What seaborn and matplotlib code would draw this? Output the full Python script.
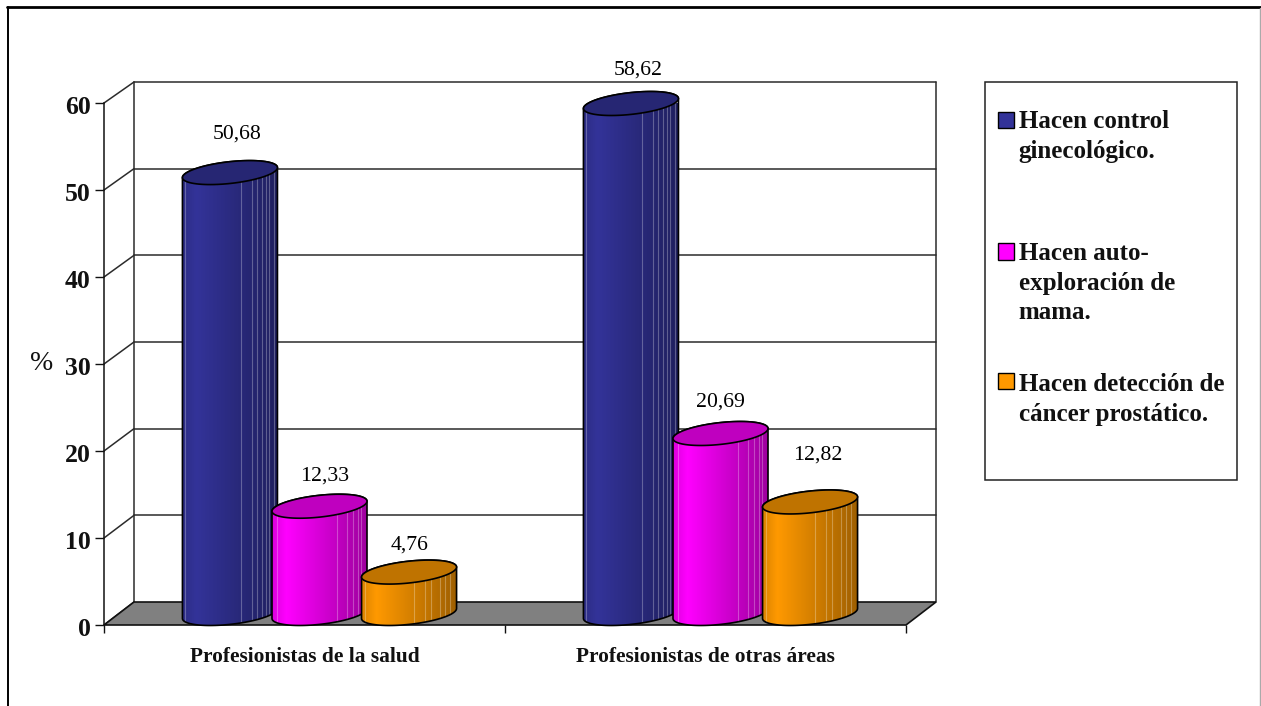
import matplotlib
matplotlib.use("Agg")
import matplotlib.pyplot as plt
import numpy as np
import pandas as pd
import seaborn as sns
from matplotlib.colors import to_rgb
from matplotlib.lines import Line2D
from matplotlib.patches import Polygon, Rectangle
from matplotlib.transforms import Affine2D

categories = ["Profesionistas de la salud", "Profesionistas de otras áreas"]
series_names = [
    "Hacen control\nginecológico.\n",
    "Hacen auto-\nexploración de\nmama.",
    "Hacen detección de\ncáncer prostático.",
]
control_values = [50.68, 58.62]
auto_values = [12.33, 20.69]
deteccion_values = [4.76, 12.82]
y_ticks = [0, 10, 20, 30, 40, 50, 60]

colors = ["#333399", "#FF00FF", "#FF9900"]
stripes = [
    [0.03, 0.62, 0.73, 0.78, 0.84, 0.88, 0.91, 0.96],
    [0.05, 0.68, 0.79, 0.85, 0.90, 0.94],
    [0.04, 0.55, 0.67, 0.73, 0.83, 0.88, 0.93],
]
# label offsets from the bar top, in pixels
label_offsets = [[(7, 39), (7, 33)], [(5, 30), (0, 31)], [(1, 27), (8, 47)]]

W, H = 1261, 706
PX_X = 2 / 802  # category units per pixel
PX_Y = 60 / 522  # value units per pixel
BACK_SCALE = 520 / 522


def px_box(x0, y0, x1, y1):
    return [x0 / W, 1 - y1 / H, (x1 - x0) / W, (y1 - y0) / H]


sns.set_theme(style="white")
plt.rcParams["font.family"] = ["Liberation Serif", "DejaVu Serif"]
plt.rcParams["axes.unicode_minus"] = False

df = pd.DataFrame({
    "categoria": categories * 3,
    "serie": [s for s in series_names for _ in categories],
    "valor": control_values + auto_values + deteccion_values,
})

fig = plt.figure(figsize=(W / 100, H / 100), dpi=100)
ax = fig.add_axes(px_box(104, 103, 906, 625))

sns.barplot(data=df, x="categoria", y="valor", hue="serie", hue_order=series_names,
            palette=colors, saturation=1, width=0.67, gap=0, edgecolor="black", linewidth=1,
            errorbar=None, ax=ax)
handles, labels = ax.get_legend_handles_labels()
ax.get_legend().remove()

# the axes are the front plane of the box, bars stand half way back
mid = ax.transData + Affine2D().translate(15, 11.5)
back = ax.transData + Affine2D().translate(30, 23)

floor = Polygon([(-0.5, 0), (1.5, 0), (1.5 + 30 * PX_X, 23 * PX_Y), (-0.5 + 30 * PX_X, 23 * PX_Y)],
                closed=True, facecolor="#808080", edgecolor="#111111", linewidth=1.2, zorder=1.6, clip_on=False)
ax.add_patch(floor)

wall = dict(color="#2b2b2b", linewidth=1.1, zorder=1.2, clip_on=False)
for tick in y_ticks:
    if tick > 0:
        ax.plot([-0.5, 1.5], [tick * BACK_SCALE, tick * BACK_SCALE], transform=back, **wall)
    ax.plot([-0.5, -0.5 + 30 * PX_X], [tick, tick * BACK_SCALE + 23 * PX_Y], **wall)
ax.plot([-0.5, -0.5], [0, 60 * BACK_SCALE], transform=back, **wall)
ax.plot([1.5, 1.5], [0, 60 * BACK_SCALE], transform=back, **wall)

half_w = 47.5 * PX_X
tilt = 5 * PX_Y
half_h = 10.9 * PX_Y
t = np.linspace(0, 2 * np.pi, 121)

for i, container in enumerate(ax.containers):
    base = np.array(to_rgb(colors[i]))
    ramp = np.interp(np.linspace(0, 1, 240), [0, 0.15, 1], [0.86, 1, 0.62])
    strip = (ramp[:, None] * base)[None, :, :]
    for j, bar in enumerate(container.patches):
        value = bar.get_height()
        cx = bar.get_x() + bar.get_width() / 2
        z = 3 + i * 0.1
        ex = half_w * np.cos(t)
        ey = tilt * np.cos(t) + half_h * np.sin(t)
        low = t[60:]
        top = t[:61]
        side = np.r_[
            np.c_[cx + half_w * np.cos(low), tilt * np.cos(low) + half_h * np.sin(low)],
            np.c_[cx + half_w * np.cos(top), value + tilt * np.cos(top) + half_h * np.sin(top)],
        ]
        body = Polygon(side, closed=True, facecolor="none", edgecolor="black", linewidth=1.2,
                       transform=mid, zorder=z + 0.03, clip_on=False)
        ax.add_patch(body)
        bar.set_transform(mid)
        bar.set_zorder(z)
        bar.set_clip_path(body)
        bottom = -half_h - tilt
        im = ax.imshow(strip, extent=(cx - half_w, cx + half_w, bottom, value + half_h + tilt),
                       aspect="auto", transform=mid, zorder=z + 0.01, interpolation="bilinear")
        im.set_clip_path(body)
        for frac in stripes[i]:
            x = cx - half_w + 2 * half_w * frac
            ln, = ax.plot([x, x], [bottom, value + half_h + tilt], color="white", alpha=0.28,
                          linewidth=0.8, transform=mid, zorder=z + 0.02)
            ln.set_clip_path(body)
        ax.add_patch(Polygon(np.c_[cx + ex, value + ey], closed=True, facecolor=base * 0.75,
                             edgecolor="black", linewidth=1.2, transform=mid, zorder=z + 0.04, clip_on=False))
        ax.annotate(f"{value:.2f}".replace(".", ","), (cx, value), xycoords=mid,
                    xytext=label_offsets[i][j], textcoords="offset pixels", ha="center", va="center",
                    fontsize=15.7, color="black", zorder=5, annotation_clip=False)

ax.set_xlim(-0.5, 1.5)
ax.set_ylim(0, 60)
ax.set_yticks(y_ticks)
ax.set_xticks([-0.5, 0.5, 1.5], minor=True)
ax.tick_params(axis="x", which="major", length=0, pad=15.5, labelsize=15.4)
ax.tick_params(axis="x", which="minor", length=5.8, width=1, color="#111111", bottom=True)
ax.tick_params(axis="y", which="major", length=6.5, width=1, color="#111111", left=True, pad=3, labelsize=18.5)
for label in ax.get_xticklabels() + ax.get_yticklabels():
    label.set_fontweight("bold")
    label.set_color("#111111")
for label in ax.get_yticklabels():
    label.set_transform(label.get_transform() + Affine2D().translate(0, -2))

ax.set_xlabel("")
ax.set_ylabel("%", rotation=0, fontsize=20, color="#111111")
ax.yaxis.set_label_coords((42 - 104) / 802, (625 - 376) / 522)
ax.patch.set_alpha(0)
sns.despine(ax=ax, top=True, right=True, bottom=True)
ax.spines["left"].set_color("#111111")
ax.spines["left"].set_linewidth(1.1)

# legend box and frame of the whole picture
fig.add_artist(Rectangle((985 / W, 1 - 480 / H), 252 / W, 398 / H, transform=fig.transFigure,
                         facecolor="white", edgecolor="#222222", linewidth=1.1))
fig.add_artist(Line2D([7.5 / W, 7.5 / W], [0, 1 - 7 / H], color="black", linewidth=1.4))
fig.add_artist(Line2D([7 / W, 1], [1 - 7.3 / H, 1 - 7.3 / H], color="black", linewidth=2))
fig.add_artist(Line2D([1260 / W, 1260 / W], [0, 1 - 8 / H], color="#aaaaaa", linewidth=1))

leg = fig.legend(handles, labels, loc="upper left", bbox_to_anchor=(998 / W, 1 - 110 / H),
                 frameon=False, fontsize=18, borderpad=0, borderaxespad=0, handlelength=0.63,
                 handleheight=0.63, handletextpad=0.2, labelspacing=1.96)
for text, handle, name in zip(leg.get_texts(), leg.legend_handles, series_names):
    text.set_fontweight("bold")
    text.set_color("#111111")
    text.set_linespacing(1.38)
    handle.set_y(5 + 9.1 * name.count("\n"))
    handle.set_linewidth(1)

fig.savefig("out.png", dpi=100)
